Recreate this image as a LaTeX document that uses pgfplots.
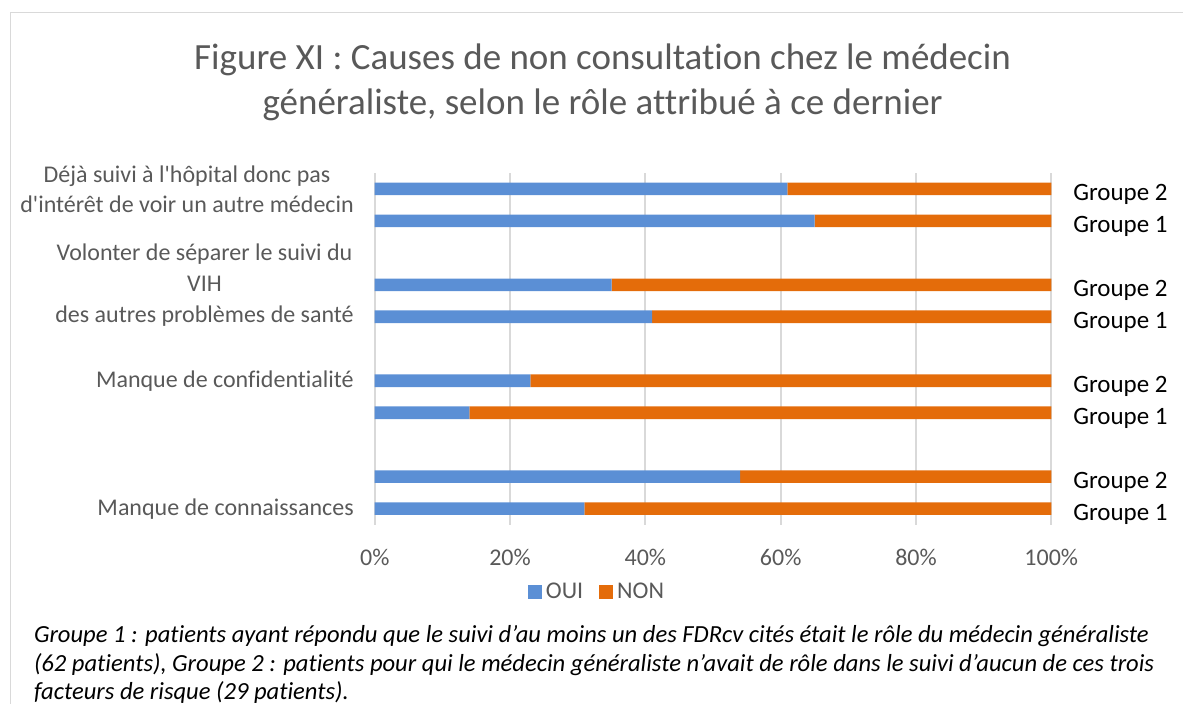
\documentclass[border=0pt]{standalone}
\usepackage{fontspec}
\setmainfont{Carlito}[Ligatures={TeXOff,NoCommon}]
\usepackage{pgfplots}
\pgfplotsset{compat=1.18}
\definecolor{oui}{HTML}{5B8FD5}
\definecolor{non}{HTML}{E46C0A}
\definecolor{txt}{HTML}{595959}
\definecolor{grd}{HTML}{D9D9D9}

\begin{document}
\begin{tikzpicture}[x=0.5pt,y=-0.5pt,
  grp/.style={anchor=west,font=\fontsize{12.5}{14}\selectfont,xshift=7.5pt,yshift=-2.8pt}]
\path (0,0) rectangle (1184,704);
\draw[grd,line width=0.8pt] (10.5,704) -- (10.5,12.5) -- (1184,12.5);

\node[align=center,text=txt,font=\fontsize{18.5}{22.5}\selectfont] at (603,82)
  {Figure XI : Causes de non consultation chez le médecin\\
   généraliste, selon le rôle attribué à ce dernier};

\begin{axis}[
  at={(187.5pt,-262.5pt)}, anchor=south west,
  scale only axis, width=338.5pt, height=176pt,
  xbar stacked, bar width=6.3pt,
  xmin=0, xmax=100, ymin=-0.5, ymax=10.5,
  axis lines=left, axis line style={draw=none},
  major tick length=0pt,
  xtick={0,20,40,60,80,100},
  xticklabels={0\%,20\%,40\%,60\%,80\%,100\%},
  xticklabel style={text=txt,font=\fontsize{12}{14}\selectfont,yshift=-8.5pt},
  ytick={0,4,7,10},
  yticklabels={Manque de connaissances,Manque de confidentialité,
    {Volonter de séparer le suivi du\\[1pt]VIH\\[1pt]des autres problèmes de santé},
    {Déjà suivi à l'hôpital donc pas\\[0.5pt]d'intérêt de voir un autre médecin}},
  yticklabel style={align=center,text=txt,font=\fontsize{12}{14.5}\selectfont,xshift=-7pt},
  xmajorgrids, grid style={grd,line width=1pt},
  legend columns=2,
  legend style={at={(0.330,-0.191)},anchor=center,draw=none,fill=none,
    font=\fontsize{12}{14}\selectfont,text=txt,
    /tikz/every even column/.append style={column sep=6pt}},
  legend image code/.code={\fill[#1] (0pt,-3.5pt) rectangle (7pt,3.5pt);},
  clip=false,
]
\addplot[fill=oui,draw=none] coordinates {(31,0) (54,1) (14,3) (23,4) (41,6) (35,7) (65,9) (61,10)};
\addplot[fill=non,draw=none] coordinates {(69,0) (46,1) (86,3) (77,4) (59,6) (65,7) (35,9) (39,10)};
\legend{OUI,NON}
\node[grp] at (axis cs:100,0) {Groupe 1};
\node[grp] at (axis cs:100,1) {Groupe 2};
\node[grp] at (axis cs:100,3) {Groupe 1};
\node[grp] at (axis cs:100,4) {Groupe 2};
\node[grp] at (axis cs:100,6) {Groupe 1};
\node[grp] at (axis cs:100,7) {Groupe 2};
\node[grp] at (axis cs:100,9) {Groupe 1};
\node[grp] at (axis cs:100,10) {Groupe 2};
\end{axis}

\node[anchor=north west,align=left,font=\fontsize{12.3}{14.25}\selectfont\itshape] at (27,619)
  {Groupe 1 : patients ayant répondu que le suivi d’au moins un des FDRcv cités était le rôle du médecin généraliste\\
   (62 patients), Groupe 2 : patients pour qui le médecin généraliste n’avait de rôle dans le suivi d’aucun de ces trois\\
   facteurs de risque (29 patients).};
\end{tikzpicture}
\end{document}
